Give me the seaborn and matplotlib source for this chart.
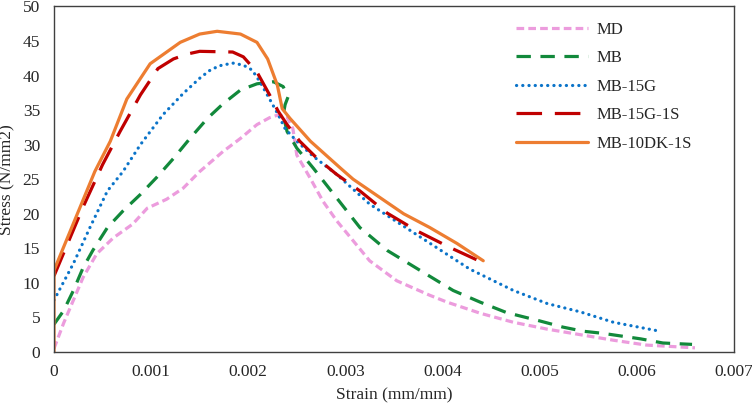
import numpy as np
import pandas as pd
import matplotlib
matplotlib.use("Agg")
import matplotlib.pyplot as plt
import seaborn as sns

# stress-strain curves
md_x = [0, 0.0001, 0.0002, 0.0003, 0.00044, 0.00061, 0.00081, 0.00096, 0.00116, 0.00133,
        0.0015, 0.00174, 0.00192, 0.00209, 0.00222, 0.00231, 0.0024, 0.00246, 0.0025, 0.00264,
        0.00277, 0.00291, 0.00308, 0.00325, 0.00353, 0.00387, 0.00405, 0.00439, 0.00473, 0.00508,
        0.00542, 0.00576, 0.0061, 0.0066]
md_y = [0.5, 4.2, 7.5, 10.8, 14.2, 16.5, 18.5, 20.8, 22.1, 23.7,
        26.1, 29.0, 30.9, 32.9, 33.9, 34.3, 34.0, 32.3, 28.5, 25.1,
        21.8, 19.0, 16.1, 13.2, 10.3, 8.2, 7.2, 5.6, 4.3, 3.3,
        2.5, 1.7, 1.0, 0.6]

mb_x = [0, 0.0001, 0.0002, 0.0003, 0.0004, 0.00055, 0.00071, 0.00089, 0.00106, 0.00123,
        0.0014, 0.00158, 0.00174, 0.00192, 0.00209, 0.00226, 0.00236, 0.00241, 0.00238, 0.00236,
        0.0024, 0.0025, 0.00267, 0.00291, 0.00315, 0.00343, 0.00377, 0.00411, 0.00439, 0.00466,
        0.005, 0.00524, 0.00545, 0.00565, 0.00604, 0.00627, 0.00657]
mb_y = [4.0, 6.0, 8.9, 12.2, 14.7, 18.0, 20.4, 22.8, 25.3, 28.0,
        30.9, 33.8, 35.9, 37.9, 38.8, 39.1, 38.4, 36.9, 35.8, 34.3,
        31.9, 29.5, 26.6, 22.3, 18.0, 14.7, 11.8, 8.9, 7.2, 5.7,
        4.5, 3.6, 3.0, 2.7, 1.9, 1.3, 1.1]

g15_x = [0, 0.0002, 0.00037, 0.00055, 0.00071, 0.00089, 0.00112, 0.00133, 0.0015, 0.0016,
         0.0017, 0.00184, 0.00195, 0.00204, 0.00212, 0.00222, 0.00231, 0.00238, 0.0025, 0.00267,
         0.00291, 0.00325, 0.0036, 0.00394, 0.00428, 0.00473, 0.00508, 0.00542, 0.00576, 0.00624]
g15_y = [7.5, 12.8, 18.0, 23.3, 26.1, 30.0, 34.3, 37.4, 39.6, 40.7,
         41.4, 41.8, 41.5, 40.8, 39.1, 36.6, 34.3, 32.3, 30.5, 28.3,
         25.7, 21.4, 18.2, 15.1, 12.0, 8.9, 7.0, 5.8, 4.3, 3.0]

g15s_x = [0, 0.0003, 0.0005, 0.00068, 0.00089, 0.00107, 0.00123, 0.00137, 0.0015, 0.00184,
          0.00195, 0.00209, 0.00222, 0.00231, 0.0024, 0.00253, 0.00271, 0.00291, 0.00315, 0.00343,
          0.00374, 0.00408, 0.00442]
g15s_y = [11.0, 21.0, 27.1, 31.9, 37.2, 41.0, 42.4, 43.1, 43.5, 43.4,
          42.7, 40.5, 37.2, 34.8, 32.9, 30.5, 28.0, 25.7, 23.3, 20.1,
          17.5, 15.1, 12.9]

dk_x = [0, 0, 0.00042, 0.00058, 0.00075, 0.00099, 0.00116, 0.0013, 0.0015, 0.00168,
        0.00192, 0.00209, 0.0022, 0.0023, 0.00235, 0.00243, 0.00264, 0.00295, 0.00308, 0.0036,
        0.00387, 0.00415, 0.00442]
dk_y = [0, 11.8, 26.1, 30.5, 36.6, 41.7, 43.4, 44.8, 46.0, 46.4,
        46.0, 44.8, 42.4, 38.6, 35.2, 33.8, 30.5, 26.6, 25.0, 20.0,
        18.0, 15.7, 13.2]

labels = ["MD", "MB", "MB-15G", "MB-15G-1S", "MB-10DK-1S"]
xs = [md_x, mb_x, g15_x, g15s_x, dk_x]
ys = [md_y, mb_y, g15_y, g15s_y, dk_y]
colors = ["#EC9CDD", "#12893B", "#0B74C9", "#C00000", "#ED7D31"]
dashes = [(2.4, 1.3), (4.5, 3.0), (0.05, 1.9), (8.0, 4.0), None]

sns.set_style("white")
plt.rcParams["font.family"] = ["Liberation Serif", "DejaVu Serif"]

fig = plt.figure(figsize=(7.52, 4.03), dpi=100)
ax = fig.add_axes([0.0718, 0.1266, 0.904, 0.8575])

for lab, x, y, c, d in zip(labels, xs, ys, colors, dashes):
    df = pd.DataFrame({"x": x, "y": y})
    sns.lineplot(data=df, x="x", y="y", sort=False, estimator=None, ax=ax,
                 color=c, linewidth=2.3, label=lab)
    ln = ax.lines[-1]
    if d is not None:
        ln.set_dashes(d)
        if d[0] < 0.5:
            ln.set_dash_capstyle("round")

ax.set_xlim(0, 0.007)
ax.set_ylim(0, 50)
ax.set_xticks(np.arange(0, 0.0071, 0.001))
ax.set_xticklabels(["0", "0.001", "0.002", "0.003", "0.004", "0.005", "0.006", "0.007"])
ax.set_yticks(np.arange(0, 51, 5))
ax.tick_params(labelsize=12.5, length=0)
ax.tick_params(axis="x", pad=9)
ax.tick_params(axis="y", pad=10)
ax.set_xlabel("Strain (mm/mm)", fontsize=12.5, labelpad=5)
ax.set_ylabel("Stress (N/mm2)", fontsize=12.5, labelpad=5)
for s in ax.spines.values():
    s.set_color("#404040")
    s.set_linewidth(1.0)

ax.legend(loc="upper left", bbox_to_anchor=(0.67, 0.975), frameon=False,
          fontsize=12, handlelength=4.3, handletextpad=0.5, labelspacing=0.75,
          borderaxespad=0)

fig.savefig("out.png", dpi=100)
